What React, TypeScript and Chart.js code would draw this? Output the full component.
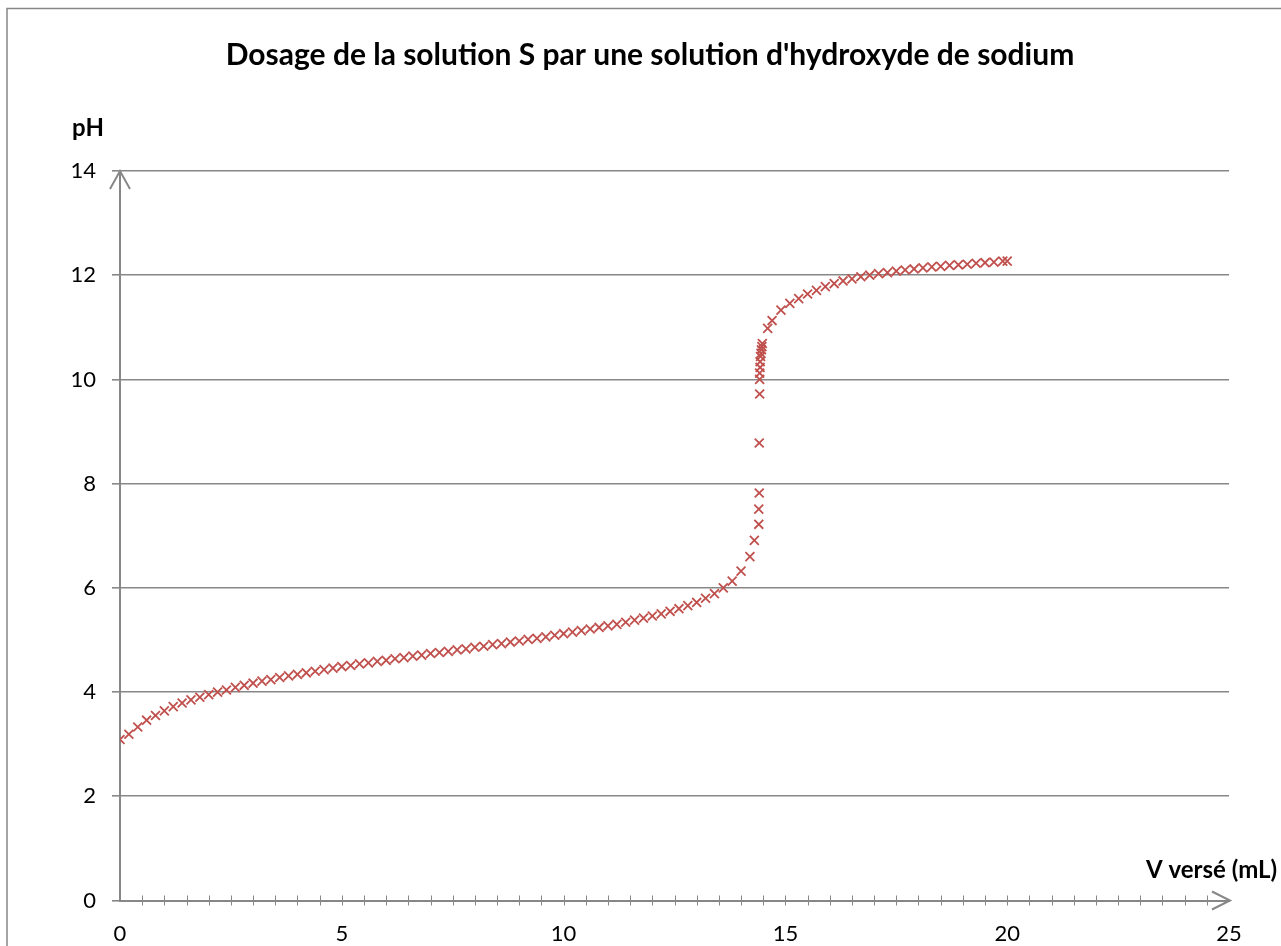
import React, { useEffect, useRef } from "react";
import { Chart, registerables } from "chart.js";

Chart.register(...registerables);

const chartTitle = "Dosage de la solution S par une solution d'hydroxyde de sodium";
const yAxisTitle = "pH";
const xAxisTitle = "V versé (mL)";

const volumes: number[] = [
  0, 0.2, 0.4, 0.6, 0.8, 1.0, 1.2, 1.4, 1.6, 1.8,
  2.0, 2.2, 2.4, 2.6, 2.8, 3.0, 3.2, 3.4, 3.6, 3.8,
  4.0, 4.2, 4.4, 4.6, 4.8, 5.0, 5.2, 5.4, 5.6, 5.8,
  6.0, 6.2, 6.4, 6.6, 6.8, 7.0, 7.2, 7.4, 7.6, 7.8,
  8.0, 8.2, 8.4, 8.6, 8.8, 9.0, 9.2, 9.4, 9.6, 9.8,
  10.0, 10.2, 10.4, 10.6, 10.8, 11.0, 11.2, 11.4, 11.6, 11.8,
  12.0, 12.2, 12.4, 12.6, 12.8, 13.0, 13.2, 13.4, 13.6, 13.8,
  14.0, 14.2, 14.3,
  14.40, 14.40, 14.41, 14.41, 14.42, 14.42, 14.42, 14.43, 14.43, 14.44, 14.45, 14.46, 14.47, 14.48,
  14.6, 14.7, 14.9, 15.1, 15.3, 15.5, 15.7, 15.9, 16.1, 16.3,
  16.5, 16.7, 16.9, 17.1, 17.3, 17.5, 17.7, 17.9, 18.1, 18.3,
  18.5, 18.7, 18.9, 19.1, 19.3, 19.5, 19.7, 19.9, 20.0,
];

const phValues: number[] = [
  3.09, 3.19, 3.33, 3.46, 3.55, 3.64, 3.72, 3.79, 3.85, 3.90,
  3.95, 4.00, 4.04, 4.09, 4.13, 4.17, 4.21, 4.24, 4.28, 4.31,
  4.34, 4.37, 4.40, 4.43, 4.46, 4.49, 4.51, 4.54, 4.56, 4.59,
  4.61, 4.64, 4.66, 4.69, 4.71, 4.74, 4.76, 4.78, 4.81, 4.83,
  4.86, 4.88, 4.91, 4.93, 4.96, 4.98, 5.01, 5.03, 5.06, 5.09,
  5.12, 5.15, 5.18, 5.21, 5.24, 5.27, 5.30, 5.34, 5.38, 5.42,
  5.46, 5.50, 5.55, 5.60, 5.66, 5.72, 5.80, 5.89, 6.00, 6.13,
  6.32, 6.60, 6.91,
  7.22, 7.51, 7.82, 8.78, 9.72, 10.00, 10.12, 10.23, 10.34, 10.44, 10.50, 10.57, 10.63, 10.69,
  10.98, 11.13, 11.33, 11.46, 11.55, 11.64, 11.71, 11.78, 11.84, 11.89,
  11.93, 11.97, 12.00, 12.03, 12.05, 12.08, 12.10, 12.12, 12.14, 12.16,
  12.17, 12.19, 12.20, 12.21, 12.23, 12.24, 12.25, 12.27, 12.27,
];

const xMin = 0;
const xMax = 25;
const xMajorStep = 5;
const xMinorStep = 0.5;
const yMin = 0;
const yMax = 14;
const yStep = 2;

const FONT = "Lato, 'Open Sans', sans-serif";
const GRAY = "#878787";
const RED = "#C0504D";

const decorPlugin = {
  id: "decor",
  afterDraw(chart: any) {
    const { ctx } = chart;
    const xs = chart.scales.x;
    const ys = chart.scales.y;
    ctx.save();
    // outer border
    ctx.strokeStyle = GRAY;
    ctx.lineWidth = 1.5;
    ctx.beginPath();
    ctx.moveTo(7, 946);
    ctx.lineTo(7, 8.5);
    ctx.lineTo(1281, 8.5);
    ctx.stroke();

    // minor ticks across x axis
    const y0 = ys.getPixelForValue(0);
    ctx.lineWidth = 1;
    ctx.beginPath();
    for (let v = xMinorStep; v < xMax - 1e-9; v += xMinorStep) {
      const px = Math.round(xs.getPixelForValue(v)) + 0.5;
      ctx.moveTo(px, y0 - 5);
      ctx.lineTo(px, y0 + 5);
    }
    ctx.stroke();

    // arrows
    ctx.lineWidth = 2;
    const xTop = xs.getPixelForValue(0);
    const yTop = ys.getPixelForValue(yMax);
    ctx.beginPath();
    ctx.moveTo(xTop - 10, yTop + 18);
    ctx.lineTo(xTop, yTop);
    ctx.lineTo(xTop + 10, yTop + 18);
    ctx.stroke();
    const xEnd = xs.getPixelForValue(xMax);
    ctx.beginPath();
    ctx.moveTo(xEnd - 17, y0 - 9);
    ctx.lineTo(xEnd + 1, y0);
    ctx.lineTo(xEnd - 17, y0 + 9);
    ctx.stroke();

    // titles
    ctx.fillStyle = "#000";
    ctx.textBaseline = "middle";
    ctx.textAlign = "center";
    ctx.font = `bold 30px ${FONT}`;
    ctx.fillText(chartTitle, 650, 55);
    ctx.font = `bold 24px ${FONT}`;
    ctx.fillText(yAxisTitle, 88, 128);
    ctx.textAlign = "left";
    ctx.fillText(xAxisTitle, 1146, 870);
    ctx.restore();
  },
};

export default function App() {
  const canvasRef = useRef<HTMLCanvasElement | null>(null);

  useEffect(() => {
    const canvas = canvasRef.current;
    if (!canvas) return;
    const points = volumes.map((v, i) => ({ x: v, y: phValues[i] }));
    const chart = new Chart(canvas, {
      type: "scatter",
      data: {
        datasets: [
          {
            label: "pH",
            data: points,
            pointStyle: "crossRot",
            pointRadius: 6.3,
            pointHoverRadius: 6.3,
            borderColor: RED,
            backgroundColor: RED,
            pointBorderWidth: 1.8,
            showLine: false,
          },
        ],
      },
      options: {
        animation: false,
        responsive: false,
        devicePixelRatio: 1,
        layout: { padding: { top: 171, left: 0, right: 52, bottom: 0 } },
        plugins: {
          legend: { display: false },
          tooltip: { enabled: false },
          title: { display: false },
        },
        scales: {
          x: {
            type: "linear",
            min: xMin,
            max: xMax,
            ticks: {
              stepSize: xMajorStep,
              color: "#000",
              font: { family: FONT, size: 22 },
              padding: 20,
              maxRotation: 0,
            },
            grid: { display: false, drawTicks: false },
            border: { display: true, color: GRAY, width: 2 },
            afterFit: (scale: any) => {
              scale.height = 45.5;
            },
          },
          y: {
            type: "linear",
            min: yMin,
            max: yMax,
            ticks: {
              stepSize: yStep,
              color: "#000",
              font: { family: FONT, size: 22 },
              padding: 16,
            },
            grid: {
              color: GRAY,
              lineWidth: 1.6,
              tickLength: 8,
              drawTicks: true,
            },
            border: { display: true, color: GRAY, width: 2 },
            afterFit: (scale: any) => {
              scale.width = 120;
            },
          },
        },
      },
      plugins: [decorPlugin],
    });
    return () => chart.destroy();
  }, []);

  return (
    <div style={{ position: "fixed", left: 0, top: 0, width: 1281, height: 946, background: "#fff" }}>
      <canvas ref={canvasRef} width={1281} height={946} style={{ display: "block" }} />
    </div>
  );
}
